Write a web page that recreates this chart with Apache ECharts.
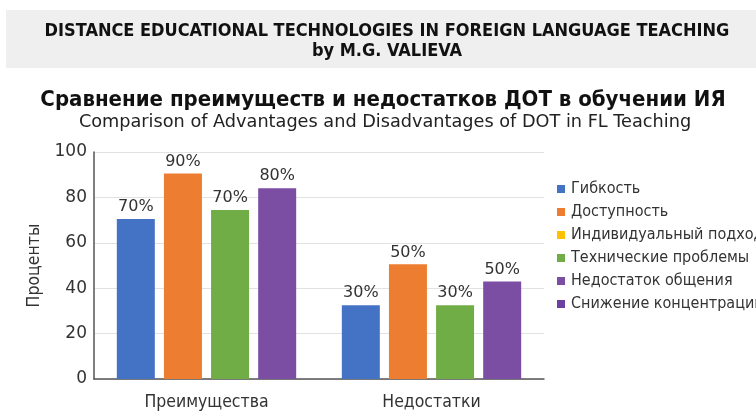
<!DOCTYPE html>
<html>
<head>
<meta charset="utf-8">
<script src="https://cdn.jsdelivr.net/npm/echarts@6/dist/echarts.min.js"></script>
<style>
  html, body { margin: 0; padding: 0; background: #fff; }
  #chart { width: 756px; height: 416px; }
</style>
</head>
<body>
<div id="chart"></div>
<script>
// categories and series
const categories = ['Преимущества', 'Недостатки'];
const seriesNames = [
  'Гибкость',
  'Доступность',
  'Индивидуальный подход',
  'Технические проблемы',
  'Недостаток общения',
  'Снижение концентрации'
];
const seriesColors = ['#4472c4', '#ed7d31', '#ffc000', '#70ad47', '#7b4ea3', '#6c3fa0'];

// bar heights as drawn (they do not quite match the printed labels)
const flexibility = [70.5, 32.5];
const accessibility = [90.5, 50.5];
const individual = [];
const technical = [74.5, 32.5];
const communication = [84, 43];
const concentration = [];

// the printed label text
const flexibilityLabels = ['70%', '30%'];
const accessibilityLabels = ['90%', '50%'];
const technicalLabels = ['70%', '30%'];
const communicationLabels = ['80%', '50%'];

const yTicks = { min: 0, max: 100, interval: 20 };

const COND = '"DejaVu Sans Condensed", "DejaVu Sans", sans-serif';
const WIDE = '"DejaVu Sans", sans-serif';
const TEXT = '#333';

function barSeries(name, color, data, labels) {
  return {
    name,
    type: 'bar',
    data,
    barWidth: 38,
    barGap: '24%',
    itemStyle: { color },
    label: {
      show: true,
      position: 'top',
      distance: 4,
      color: TEXT,
      fontSize: 16,
      fontFamily: WIDE,
      formatter: (p) => labels[p.dataIndex]
    }
  };
}

function emptySeries(name, color, data) {
  return { name, type: 'line', data, itemStyle: { color }, lineStyle: { color } };
}

const chart = echarts.init(document.getElementById('chart'), null, { renderer: 'canvas' });

chart.setOption({
  animation: false,
  backgroundColor: '#fff',
  graphic: [
    {
      type: 'rect',
      shape: { x: 6, y: 10, width: 750, height: 58 },
      style: { fill: '#efefef' },
      z: -10
    }
  ],
  title: [
    {
      text: 'DISTANCE EDUCATIONAL TECHNOLOGIES IN FOREIGN LANGUAGE TEACHING',
      left: 382, top: 17, textAlign: 'center',
      textStyle: { fontFamily: COND, fontWeight: 'bold', fontSize: 18, color: '#111' }
    },
    {
      text: 'by M.G. VALIEVA',
      left: 382, top: 37, textAlign: 'center',
      textStyle: { fontFamily: COND, fontWeight: 'bold', fontSize: 18, color: '#111' }
    },
    {
      text: 'Сравнение преимуществ и недостатков ДОТ в обучении ИЯ',
      left: 378, top: 84, textAlign: 'center',
      textStyle: { fontFamily: COND, fontWeight: 'bold', fontSize: 22, color: '#111' }
    },
    {
      text: 'Comparison of Advantages and Disadvantages of DOT in FL Teaching',
      left: 380, top: 108, textAlign: 'center',
      textStyle: { fontFamily: WIDE, fontWeight: 'normal', fontSize: 17.7, color: '#222' }
    }
  ],
  legend: {
    orient: 'vertical',
    left: 552,
    top: 176,
    itemWidth: 8,
    itemHeight: 8,
    itemGap: 7,
    icon: 'rect',
    data: seriesNames,
    textStyle: { fontFamily: COND, fontSize: 16, color: TEXT, padding: [0, 0, 0, 1] }
  },
  grid: { left: 94, top: 152, width: 450, height: 227 },
  xAxis: {
    type: 'category',
    data: categories,
    axisTick: { show: false },
    axisLine: { lineStyle: { color: '#555', width: 1.5 } },
    axisLabel: { color: TEXT, fontSize: 17.5, fontFamily: COND, margin: 14 }
  },
  yAxis: {
    type: 'value',
    min: yTicks.min,
    max: yTicks.max,
    interval: yTicks.interval,
    name: 'Проценты',
    nameLocation: 'middle',
    nameGap: 44,
    nameTextStyle: { color: TEXT, fontSize: 17.5, fontFamily: COND },
    axisLine: { show: true, lineStyle: { color: '#555', width: 1.5 } },
    axisTick: { show: false },
    axisLabel: { color: TEXT, fontSize: 17, fontFamily: WIDE, margin: 7 },
    splitLine: { lineStyle: { color: '#e2e2e2' } }
  },
  series: [
    barSeries(seriesNames[0], seriesColors[0], flexibility, flexibilityLabels),
    barSeries(seriesNames[1], seriesColors[1], accessibility, accessibilityLabels),
    emptySeries(seriesNames[2], seriesColors[2], individual),
    barSeries(seriesNames[3], seriesColors[3], technical, technicalLabels),
    barSeries(seriesNames[4], seriesColors[4], communication, communicationLabels),
    emptySeries(seriesNames[5], seriesColors[5], concentration)
  ]
});
</script>
</body>
</html>
